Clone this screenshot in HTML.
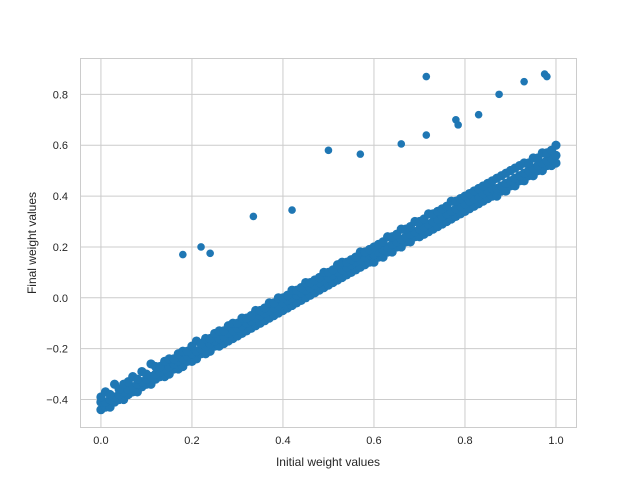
<!DOCTYPE html>
<html><head><meta charset="utf-8"><style>
body{margin:0;background:#fff;}
svg text{font-family:"Liberation Sans","DejaVu Sans",sans-serif;fill:#262626;}
</style></head><body>
<svg id="chart" width="640" height="480" xmlns="http://www.w3.org/2000/svg">
<rect x="0" y="0" width="640" height="480" fill="#fff"/>
<g id="grid"></g>
<g id="pts"></g>
<rect x="80.5" y="58.5" width="496" height="369" fill="none" stroke="#cccccc" stroke-width="1"/>
<g id="ticks"></g>
<text x="328" y="466" font-size="12" text-anchor="middle">Initial weight values</text>
<text transform="translate(36,243) rotate(-90)" font-size="12" text-anchor="middle">Final weight values</text>
</svg>
<script>
const xTicks=[0.0,0.2,0.4,0.6,0.8,1.0];
const xTickLabels=["0.0","0.2","0.4","0.6","0.8","1.0"];
const yTicks=[-0.4,-0.2,0.0,0.2,0.4,0.6,0.8];
const yTickLabels=["−0.4","−0.2","0.0","0.2","0.4","0.6","0.8"];
const bandLow=[-0.44,-0.43,-0.43,-0.41,-0.40,-0.40,-0.38,-0.37,-0.37,-0.35,
-0.34,-0.34,-0.32,-0.31,-0.31,-0.30,-0.28,-0.28,-0.27,-0.25,
-0.25,-0.24,-0.22,-0.22,-0.21,-0.19,-0.19,-0.18,-0.17,-0.16,
-0.15,-0.14,-0.13,-0.12,-0.11,-0.10,-0.09,-0.08,-0.07,-0.06,
-0.05,-0.04,-0.03,-0.02,-0.01,0.00,0.01,0.02,0.03,0.04,
0.05,0.06,0.07,0.08,0.09,0.10,0.11,0.12,0.13,0.14,
0.14,0.16,0.16,0.18,0.18,0.20,0.20,0.22,0.22,0.24,
0.24,0.25,0.26,0.27,0.28,0.29,0.30,0.31,0.32,0.33,
0.34,0.35,0.36,0.37,0.38,0.39,0.40,0.40,0.42,0.42,
0.44,0.44,0.46,0.46,0.48,0.48,0.50,0.50,0.52,0.52,0.53];
const bandMid=[-0.41,-0.41,-0.40,-0.39,-0.38,-0.37,-0.36,-0.35,-0.34,-0.33,
-0.32,-0.31,-0.30,-0.29,-0.28,-0.27,-0.26,-0.25,-0.24,-0.23,
-0.22,-0.21,-0.20,-0.19,-0.18,-0.17,-0.16,-0.15,-0.14,-0.13,
-0.12,-0.11,-0.10,-0.09,-0.08,-0.07,-0.06,-0.05,-0.04,-0.03,
-0.02,-0.01,0.00,0.01,0.02,0.03,0.04,0.05,0.06,0.07,
0.08,0.09,0.10,0.11,0.12,0.13,0.14,0.15,0.16,0.17,
0.17,0.18,0.19,0.20,0.21,0.22,0.23,0.24,0.25,0.26,
0.27,0.28,0.29,0.30,0.31,0.32,0.33,0.34,0.35,0.36,
0.37,0.38,0.39,0.40,0.41,0.42,0.43,0.43,0.44,0.45,
0.46,0.47,0.48,0.49,0.50,0.51,0.52,0.53,0.54,0.55,0.56];
const bandHigh=[-0.39,-0.37,-0.38,-0.34,-0.36,-0.34,-0.33,-0.31,-0.32,-0.29,
-0.30,-0.26,-0.27,-0.27,-0.25,-0.24,-0.24,-0.22,-0.21,-0.21,
-0.19,-0.17,-0.18,-0.16,-0.16,-0.14,-0.13,-0.13,-0.11,-0.10,
-0.10,-0.08,-0.08,-0.07,-0.05,-0.05,-0.04,-0.02,-0.02,0.00,
0.00,0.01,0.03,0.03,0.04,0.06,0.06,0.07,0.08,0.10,
0.10,0.11,0.13,0.14,0.14,0.15,0.16,0.18,0.18,0.19,
0.20,0.21,0.22,0.24,0.24,0.25,0.27,0.27,0.28,0.30,
0.30,0.31,0.33,0.33,0.34,0.35,0.36,0.38,0.38,0.39,
0.40,0.41,0.42,0.43,0.44,0.45,0.46,0.47,0.48,0.49,
0.50,0.51,0.52,0.53,0.53,0.55,0.55,0.57,0.57,0.58,0.60];
const outX=[0.18,0.22,0.24,0.335,0.42,0.50,0.57,0.66,0.715,0.715,0.78,0.785,0.83,0.875,0.93,0.975,0.98];
const outY=[0.17,0.20,0.175,0.32,0.345,0.58,0.565,0.605,0.87,0.64,0.70,0.68,0.72,0.80,0.85,0.88,0.87];

const NS="http://www.w3.org/2000/svg";
const X0=80,X1=576,Y0=58,Y1=427;
const xmin=-0.046,xmax=1.044,ymin=-0.508,ymax=0.943;
function sx(v){return X0+(v-xmin)/(xmax-xmin)*(X1-X0);}
function sy(v){return Y1-(v-ymin)/(ymax-ymin)*(Y1-Y0);}
const grid=document.getElementById('grid'),ticks=document.getElementById('ticks'),pts=document.getElementById('pts');
function mk(tag,attrs,parent){const e=document.createElementNS(NS,tag);for(const k in attrs)e.setAttribute(k,attrs[k]);parent.appendChild(e);return e;}
xTicks.forEach((v,i)=>{
  const l=mk('line',{x1:sx(v),x2:sx(v),y1:Y0,y2:Y1,stroke:'#cccccc','stroke-width':1},grid);
  
  
  const t=mk('text',{x:sx(v),y:Y1+17,'font-size':11,'text-anchor':'middle'},ticks);
  t.textContent=xTickLabels[i];
  
  
});
yTicks.forEach((v,i)=>{
  const l=mk('line',{x1:X0,x2:X1,y1:sy(v),y2:sy(v),stroke:'#cccccc','stroke-width':1},grid);
  
  
  const t=mk('text',{x:X0-12,y:sy(v)+4,'font-size':11,'text-anchor':'end'},ticks);
  t.textContent=yTickLabels[i];
  
  
});
function dot(x,y,r){
  const c=mk('circle',{cx:sx(x),cy:sy(y),r:r,fill:'#1f77b4'},pts);
  
  
}
[bandLow,bandMid,bandHigh].forEach(arr=>arr.forEach((y,k)=>dot(k/(arr.length-1),y,4.6)));
outX.forEach((x,i)=>dot(x,outY[i],3.8));
</script>
</body></html>
